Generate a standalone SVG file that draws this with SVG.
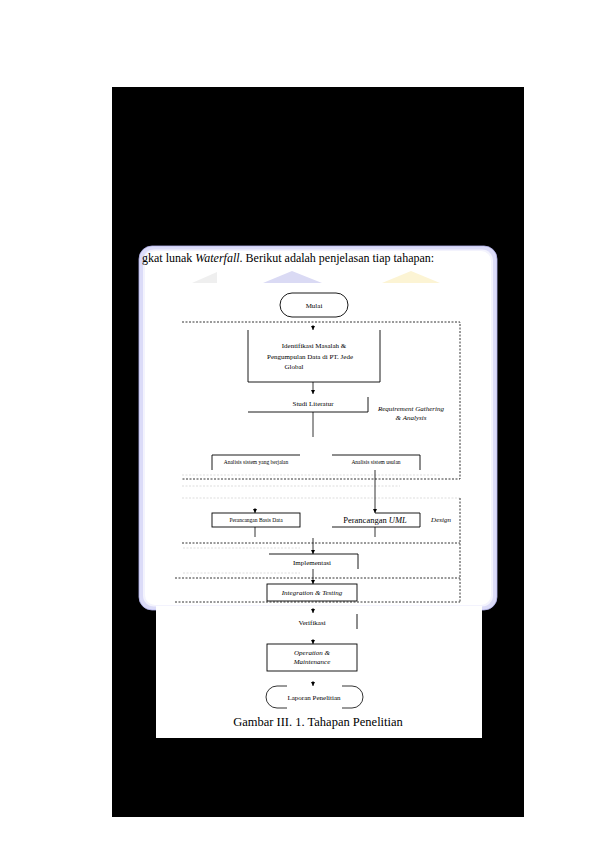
<svg xmlns="http://www.w3.org/2000/svg" width="595" height="842" viewBox="0 0 595 842">
<defs>
<marker id="ah" markerWidth="4" markerHeight="4" refX="4" refY="2" orient="auto" markerUnits="userSpaceOnUse"><path d="M0,0 L4,2 L0,4 Z" fill="#000"/></marker>
</defs>
<style>
.t{font-family:"Liberation Serif","Times New Roman",serif;fill:#000}
.s{font-size:7px}
.xs{font-size:5.5px}
.i{font-style:italic}
.ln{stroke:#000;stroke-width:0.9;fill:none}
.bx{stroke:#000;stroke-width:0.9;fill:#fff}
.dk{stroke:#000;stroke-width:0.8;stroke-dasharray:2 1.5;fill:none}
.gr{stroke:#d4d4d4;stroke-width:0.8;stroke-dasharray:2 1.5;fill:none}
.cn{stroke:#000;stroke-width:0.8;fill:none}
</style>
<rect x="0" y="0" width="595" height="842" fill="#fff"/>
<rect x="112" y="87" width="412" height="730" fill="#000"/>
<g id="panel">
<rect x="139" y="246" width="358" height="364" rx="13" fill="#dcdcf8" stroke="#b4b4ee" stroke-width="0.8"/>
<rect x="143" y="249.5" width="350" height="357" rx="11" fill="#f3f3fd"/>
<rect x="145" y="251" width="346" height="354" rx="10" fill="#fff"/>
<rect x="156" y="606" width="326" height="132" fill="#fff"/>
<polygon points="192,283 217,272 217,283" fill="#efefef"/>
<polygon points="263,283 292,271 322,283" fill="#dadaf4"/>
<polygon points="382,283 411,271 440,283" fill="#fcf4d4"/>
<text class="t" x="142" y="262" font-size="12">gkat lunak <tspan font-style="italic">Waterfall</tspan>. Berikut adalah penjelasan tiap tahapan:</text>
</g>
<g id="phases">
<path class="dk" d="M182,322 H460 V479 H182"/>
<text class="t s i" x="411" y="411" text-anchor="middle">Requirement Gathering</text>
<text class="t s i" x="411" y="420" text-anchor="middle">&amp; Analysis</text>
<path class="gr" d="M182,475 H440"/>
<path class="gr" d="M182,486 H400"/>
<path class="gr" d="M182,498 H460"/>
<path class="dk" d="M460,498 V602"/>
<text class="t s i" x="441" y="522" text-anchor="middle">Design</text>
<path class="dk" d="M182,543 H460"/>
<path class="gr" d="M183,548 H300"/>
<path class="gr" d="M183,573 H300"/>
<path class="dk" d="M175,578 H460"/>
<path class="dk" d="M175,602 H460"/>
</g>
<g id="mulai">
<rect x="280" y="293" width="68" height="24" rx="12" class="bx"/>
<text class="t s" x="314" y="308" text-anchor="middle">Mulai</text>
</g>
<g id="identifikasi">
<path class="ln" d="M248,330 V382 H380 V330"/>
<text class="t s" x="314" y="348" text-anchor="middle">Identifikasi Masalah &amp;</text>
<text class="t s" x="310" y="359" text-anchor="middle">Pengumpulan Data di PT. Jede</text>
<text class="t s" x="294" y="369" text-anchor="middle">Global</text>
</g>
<g id="studi">
<path class="ln" d="M248,412 H368 V397"/>
<text class="t s" x="313" y="406" text-anchor="middle">Studi Literatur</text>
</g>
<g id="analisis-berjalan">
<path class="ln" d="M212,470 V455 H300"/>
<text class="t xs" x="256" y="464" text-anchor="middle">Analisis sistem yang berjalan</text>
</g>
<g id="analisis-usulan">
<path class="ln" d="M332,455 H420 V470"/>
<text class="t xs" x="376" y="464" text-anchor="middle">Analisis sistem usulan</text>
</g>
<g id="basis-data">
<rect x="212" y="513" width="88" height="14" class="bx"/>
<text class="t xs" x="256" y="522" text-anchor="middle">Perancangan Basis Data</text>
</g>
<g id="uml">
<path class="ln" d="M332,527 H420 V513 H375"/>
<text class="t" font-size="8.5" x="375" y="523" text-anchor="middle">Perancangan <tspan font-style="italic">UML</tspan></text>
</g>
<g id="implementasi">
<path class="ln" d="M269,554 H358 V569"/>
<text class="t s" x="312" y="565" text-anchor="middle">Implementasi</text>
</g>
<g id="testing">
<rect x="267" y="584" width="90" height="17" class="bx"/>
<text class="t s i" x="312" y="595" text-anchor="middle">Integration &amp; Testing</text>
</g>
<g id="verifikasi">
<path class="ln" d="M357,614 V629"/>
<text class="t s" x="312" y="625" text-anchor="middle">Verifikasi</text>
</g>
<g id="operation">
<rect x="267" y="644" width="90" height="27" class="bx"/>
<text class="t s i" x="312" y="655" text-anchor="middle">Operation &amp;</text>
<text class="t s i" x="312" y="664" text-anchor="middle">Maintenance</text>
</g>
<g id="laporan">
<path d="M277,686 A11,11 0 0 0 277,708 M352,686 A11,11 0 0 1 352,708 M277,686 H287 M342,686 H352 M277,708 H287 M342,708 H352" fill="none" stroke="#000" stroke-width="0.8"/>
<text class="t s" x="314" y="700" text-anchor="middle">Laporan Penelitian</text>
</g>
<g id="connectors">
<path class="cn" d="M313,325 V330" marker-end="url(#ah)"/>
<path class="cn" d="M313,382 V394" marker-end="url(#ah)"/>
<path class="cn" d="M313,412 V437"/>
<path class="cn" d="M375,470 V513" marker-end="url(#ah)"/>
<path class="cn" d="M255,508 V513" marker-end="url(#ah)"/>
<path class="cn" d="M255,527 V537"/>
<path class="cn" d="M375,527 V537"/>
<path class="cn" d="M313,538 V554" marker-end="url(#ah)"/>
<path class="cn" d="M313,569 V584" marker-end="url(#ah)"/>
<path class="cn" d="M313,608 V613" marker-end="url(#ah)"/>
<path class="cn" d="M313,639 V644" marker-end="url(#ah)"/>
<path class="cn" d="M313,681 V686" marker-end="url(#ah)"/>
</g>
<g id="caption">
<text class="t" font-size="12.5" x="318" y="726" text-anchor="middle">Gambar III. 1. Tahapan Penelitian</text>
</g>
</svg>
